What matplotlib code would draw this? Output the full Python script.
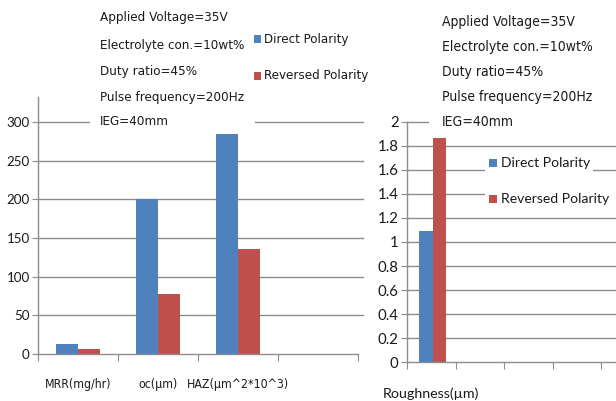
import matplotlib
matplotlib.use("Agg")
import matplotlib.pyplot as plt
from matplotlib.patches import Rectangle
from matplotlib import font_manager

# ---- data ----
left_categories = ["MRR(mg/hr)", "oc(µm)", "HAZ(µm^2*10^3)", ""]
left_direct = [12.5, 200, 290]
left_reversed = [6.5, 77, 136]
left_yticks = [0, 50, 100, 150, 200, 250, 300]

right_categories = ["Roughness(µm)", "", "", "", ""]
right_direct = [1.09]
right_reversed = [1.87]
right_yticks = [0, 0.2, 0.4, 0.6, 0.8, 1, 1.2, 1.4, 1.6, 1.8, 2]
right_yticklabels = ["0", "0.2", "0.4", "0.6", "0.8", "1", "1.2", "1.4", "1.6", "1.8", "2"]

conditions = ["Applied Voltage=35V", "Electrolyte con.=10wt%", "Duty ratio=45%",
              "Pulse frequency=200Hz", "IEG=40mm"]
series_names = ["Direct Polarity", "Reversed Polarity"]

BLUE = "#4F81BD"
RED = "#C0504D"
GRID = "#8c8c8c"
TXT = "#1a1a1a"

W, H = 616, 401
fig = plt.figure(figsize=(W / 100, H / 100), dpi=100)
fig.patch.set_facecolor("white")
renderer = fig.canvas.get_renderer()


def fx(px):
    return px / W


def fy(py):
    return 1 - py / H


# pick a condensed font if one is installed, else Lato
def pick_narrow():
    for key in ["LiberationSansNarrow-Regular", "DejaVuSansCondensed.ttf",
                "OpenSans_Condensed", "OpenSansCondensed", "Roboto_Condensed", "RobotoCondensed"]:
        for f in font_manager.fontManager.ttflist:
            if key.lower() in f.fname.replace("-", "").lower() or key.lower() in f.fname.lower():
                return font_manager.FontProperties(fname=f.fname)
    return font_manager.FontProperties(family=["Lato", "DejaVu Sans"])


NARROW = pick_narrow()
REG = font_manager.FontProperties(family=["Lato", "DejaVu Sans"])


def fit_size(text, fp, target_px, base=10.0):
    t = fig.text(0, 0, text, fontproperties=fp, fontsize=base)
    w = t.get_window_extent(renderer).width
    t.remove()
    return base * target_px / w


def style_axes(ax, yticks, ylabels, ymax, ncat, fs, grid_ext):
    ax.set_ylim(0, ymax)
    ax.set_xlim(0, ncat)
    for s in ["top", "right"]:
        ax.spines[s].set_visible(False)
    for s in ["left", "bottom"]:
        ax.spines[s].set_color(GRID)
        ax.spines[s].set_linewidth(1.0)
    ax.set_yticks(yticks)
    ax.set_yticklabels(ylabels, color=TXT, fontproperties=REG, fontsize=fs)
    ax.tick_params(axis="y", length=4, color=GRID, pad=2)
    for v in yticks[1:]:
        ax.axhline(v, xmin=0, xmax=grid_ext, color=GRID, lw=1.0, zorder=0.5, clip_on=False)
    ax.set_xticks(range(ncat + 1))
    ax.set_xticklabels([])
    ax.tick_params(axis="x", which="major", length=5, color=GRID, direction="out")


ytick_fs_L = fit_size("300", REG, 22) * 1.05
ytick_fs_R = fit_size("1.8", REG, 20) * 1.05
xlab_fs_L = fit_size("HAZ(µm^2*10^3)", NARROW, 86) * 1.18
xlab_fs_R = fit_size("Roughness(µm)", REG, 97)
cond_fs_L = fit_size(conditions[0], NARROW, 107) * 1.2
cond_fs_R = fit_size(conditions[0], NARROW, 128) * 1.04
leg_fs_L = fit_size(series_names[0], NARROW, 73) * 1.15
leg_fs_R = fit_size(series_names[0], REG, 89)

# ---- left chart ----
axL = fig.add_axes([fx(38), fy(354), fx(320), (354 - 97) / H])
style_axes(axL, left_yticks, [str(v) for v in left_yticks], 332.3, 4, ytick_fs_L, 1.016)
bw = 0.28
xs = [i + 0.5 for i in range(len(left_direct))]
axL.bar([x - bw / 2 for x in xs], left_direct, width=bw, color=BLUE, zorder=2)
axL.bar([x + bw / 2 for x in xs], left_reversed, width=bw, color=RED, zorder=2)
axL.set_xticks([i + 0.5 for i in range(4)], minor=True)
axL.set_xticklabels(left_categories, minor=True, color=TXT, fontproperties=NARROW, fontsize=xlab_fs_L)
axL.tick_params(axis="x", which="minor", length=0, pad=17)

# ---- right chart ----
axR = fig.add_axes([fx(407), fy(362), fx(242.5), 240 / H])
style_axes(axR, right_yticks, right_yticklabels, 2.0, 5, ytick_fs_R, 1.0)
xs = [i + 0.53 for i in range(len(right_direct))]
axR.bar([x - bw / 2 for x in xs], right_direct, width=bw, color=BLUE, zorder=2)
axR.bar([x + bw / 2 for x in xs], right_reversed, width=bw, color=RED, zorder=2)
axR.set_xticks([i + 0.5 for i in range(5)], minor=True)
axR.set_xticklabels(right_categories, minor=True, color=TXT, fontproperties=REG, fontsize=xlab_fs_R)
axR.tick_params(axis="x", which="minor", length=0, pad=18)

# ---- white text boxes covering gridlines ----
fig.add_artist(Rectangle((fx(90), fy(134)), fx(255 - 90), 134 / H,
                         transform=fig.transFigure, facecolor="white", edgecolor="none", zorder=5))
fig.add_artist(Rectangle((fx(429), fy(134)), fx(616 - 429), 134 / H,
                         transform=fig.transFigure, facecolor="white", edgecolor="none", zorder=5))

# ---- condition texts ----
left_ys = [18, 45, 71, 97, 122]
for t, y in zip(conditions, left_ys):
    fig.text(fx(100), fy(y), t, ha="left", va="center", fontproperties=NARROW,
             fontsize=cond_fs_L, color=TXT, zorder=6, fontweight="semibold")
right_ys = [22, 47, 72, 97, 122]
for t, y in zip(conditions, right_ys):
    fig.text(fx(442), fy(y), t, ha="left", va="center", fontproperties=NARROW,
             fontsize=cond_fs_R, color=TXT, zorder=6)


# ---- legends ----
def legend_entry(x_sq, y, size, color, label, fs, x_txt, fp, bg=None):
    if bg is not None:
        fig.add_artist(Rectangle((fx(bg[0]), fy(bg[1] + bg[2] / 2)), fx(bg[3]), bg[2] / H,
                                 transform=fig.transFigure, facecolor="white",
                                 edgecolor="none", zorder=5))
    fig.add_artist(Rectangle((fx(x_sq), fy(y + size / 2)), fx(size), size / H,
                             transform=fig.transFigure, facecolor=color,
                             edgecolor="none", zorder=6))
    fig.text(fx(x_txt), fy(y), label, ha="left", va="center", fontproperties=fp,
             fontsize=fs, color=TXT, zorder=6)


legend_entry(254, 39, 7, BLUE, series_names[0], leg_fs_L, 264, NARROW)
legend_entry(254, 76, 7, RED, series_names[1], leg_fs_L, 264, NARROW)
legend_entry(489, 163, 8, BLUE, series_names[0], leg_fs_R, 501, REG, bg=(485, 163, 20, 108))
legend_entry(489, 199, 8, RED, series_names[1], leg_fs_R, 501, REG, bg=(485, 199, 22, 131))

fig.savefig("out.png", dpi=100, facecolor="white")
